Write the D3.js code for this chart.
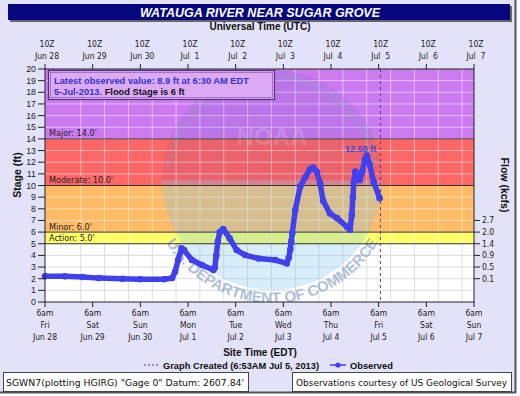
<!DOCTYPE html>
<html><head><meta charset="utf-8">
<script src="https://cdn.jsdelivr.net/npm/d3@7"></script>
<style>
html,body{margin:0;padding:0;background:#fff;}
svg{display:block;}
</style></head>
<body>
<svg id="chart" width="520" height="396"></svg>
<script>
// ---------- DATA ----------
const dayTicks = ["2013-06-28 06:00","2013-06-29 06:00","2013-06-30 06:00","2013-07-01 06:00","2013-07-02 06:00","2013-07-03 06:00","2013-07-04 06:00","2013-07-05 06:00","2013-07-06 06:00","2013-07-07 06:00"];
const utcLabels = ["Jun 28","Jun 29","Jun 30","Jul  1","Jul  2","Jul  3","Jul  4","Jul  5","Jul  6","Jul  7"];
const weekdayLabels = ["Fri","Sat","Sun","Mon","Tue","Wed","Thu","Fri","Sat","Sun"];
const dateLabels = ["Jun 28","Jun 29","Jun 30","Jul 1","Jul 2","Jul 3","Jul 4","Jul 5","Jul 6","Jul 7"];
const stageTicks = [0,1,2,3,4,5,6,7,8,9,10,11,12,13,14,15,16,17,18,19,20];
const flowStages = [7,6,5,4,3,2];
const flowLabels = ["2.7","2.0","1.4","0.9","0.5","0.1"];
const bandNames = ["Action: 5.0'","Minor: 6.0'","Moderate: 10.0'","Major: 14.0'"];
const bandLow = [5,6,10,14];
const bandHigh = [6,10,14,20];
const bandColors = ["#ffff66","#ffbb66","#ff6666","#cc7af0"];
const obsTimes = ["2013-06-28 06:00","2013-06-28 16:00","2013-06-29 01:00","2013-06-29 09:00","2013-06-29 21:00","2013-06-30 06:00","2013-06-30 18:00","2013-06-30 22:00","2013-06-30 23:30","2013-07-01 01:00","2013-07-01 02:45","2013-07-01 04:00","2013-07-01 08:00","2013-07-01 13:00","2013-07-01 18:45","2013-07-01 19:30","2013-07-01 20:15","2013-07-01 21:00","2013-07-01 22:00","2013-07-01 23:45","2013-07-02 03:00","2013-07-02 06:30","2013-07-02 10:45","2013-07-02 17:30","2013-07-03 02:00","2013-07-03 07:45","2013-07-03 08:45","2013-07-03 09:30","2013-07-03 10:00","2013-07-03 10:30","2013-07-03 12:00","2013-07-03 14:30","2013-07-03 17:00","2013-07-03 19:30","2013-07-03 21:00","2013-07-03 22:45","2013-07-04 00:30","2013-07-04 02:00","2013-07-04 05:30","2013-07-04 09:00","2013-07-04 14:00","2013-07-04 15:30","2013-07-04 16:30","2013-07-04 17:00","2013-07-04 17:30","2013-07-04 18:15","2013-07-04 19:15","2013-07-04 20:30","2013-07-04 21:45","2013-07-04 23:00","2013-07-05 00:00","2013-07-05 01:30","2013-07-05 03:30","2013-07-05 06:30"];
const obsStage = [2.2,2.2,2.15,2.05,2.0,1.95,1.95,2.05,2.6,3.6,4.6,4.45,3.6,3.17,2.74,2.95,4.0,5.2,6.0,6.26,5.46,4.46,4.03,3.74,3.6,3.31,3.8,4.5,5.2,5.9,7.9,9.9,10.7,11.4,11.55,11.2,10.2,8.7,7.6,7.2,6.45,6.2,7.5,9.0,10.3,11.2,10.9,10.45,11.2,12.2,12.58,11.8,10.3,8.9];
const createdTime = "2013-07-05 06:53";
const peakTime = "2013-07-05 00:00";
const peakLabel = "12.58 ft";

// ---------- SETUP ----------
const parse = d3.utcParse("%Y-%m-%d %H:%M");
const svg = d3.select("#chart");
const W = 520, H = 396;
const L = 45, R = 474, T = 69, B = 302;
const x = d3.scaleUtc().domain([parse(dayTicks[0]), parse(dayTicks[dayTicks.length-1])]).range([L, R]);
const y = d3.scaleLinear().domain([0, 20]).range([B, T]);
const sans = "'Liberation Sans', Arial, sans-serif";
const cond = "'DejaVu Sans Condensed','DejaVu Sans', sans-serif";

// page frame
svg.append("rect").attr("x",0).attr("y",0).attr("width",W).attr("height",H).attr("fill","#ffffff");
svg.append("rect").attr("x",0).attr("y",0).attr("width",515).attr("height",392).attr("fill","#e2e2f8");
svg.append("line").attr("x1",515.5).attr("x2",515.5).attr("y1",0).attr("y2",393).attr("stroke","#555").attr("stroke-width",2);
svg.append("line").attr("x1",0).attr("x2",516).attr("y1",392.5).attr("y2",392.5).attr("stroke","#555").attr("stroke-width",2);

// title bar
svg.append("rect").attr("x",10).attr("y",6).attr("width",502).attr("height",16).attr("fill","#666");
svg.append("rect").attr("x",8).attr("y",4).attr("width",502).attr("height",16).attr("fill","#06067e");
svg.append("text").attr("x",260).attr("y",17).attr("text-anchor","middle")
  .attr("font-family",sans).attr("font-weight","bold").attr("font-style","italic").attr("font-size",12.5)
  .attr("fill","#fff").text("WATAUGA RIVER NEAR SUGAR GROVE");
svg.append("text").attr("x",260).attr("y",30).attr("text-anchor","middle")
  .attr("font-family",sans).attr("font-weight","bold").attr("font-size",10).attr("fill","#111").text("Universal Time (UTC)");

// plot background
svg.append("rect").attr("x",L).attr("y",T).attr("width",R-L).attr("height",B-T).attr("fill","#fff");
const plot = svg.append("g");
bandLow.forEach((lo,i)=>{
  plot.append("rect").attr("x",L).attr("width",R-L).attr("y",y(bandHigh[i])).attr("height",y(lo)-y(bandHigh[i])).attr("fill",bandColors[i]);
});

// grid
const halfDays = d3.utcHour.every(12).range(x.domain()[0], x.domain()[1]).slice(1);
halfDays.forEach(t=>{
  plot.append("line").attr("x1",x(t)).attr("x2",x(t)).attr("y1",y(5)).attr("y2",B).attr("stroke","#dcdcdc").attr("stroke-width",1);
  plot.append("line").attr("x1",x(t)).attr("x2",x(t)).attr("y1",T).attr("y2",y(5)).attr("stroke","#fff").attr("stroke-opacity",0.5).attr("stroke-width",1);
});
stageTicks.slice(1,-1).forEach(s=>{
  plot.append("line").attr("x1",L).attr("x2",R).attr("y1",y(s)).attr("y2",y(s))
    .attr("stroke", s<5 ? "#dcdcdc" : "#fff").attr("stroke-opacity", s<5?1:0.5).attr("stroke-width",1);
});

// NOAA-like watermark (faint)
const defs = svg.append("defs");
defs.append("clipPath").attr("id","pclip").append("rect").attr("x",L).attr("y",T).attr("width",R-L).attr("height",B-T);
const wm = svg.append("g").attr("clip-path","url(#pclip)");
const cx = 272, cy = 180, r0 = 110;
wm.append("path").attr("d", d3.arc()({innerRadius:0, outerRadius:r0, startAngle:-Math.PI/2, endAngle:Math.PI/2})).attr("transform",`translate(${cx},${cy})`).attr("fill","#1f3f99").attr("opacity",0.09);
wm.append("path").attr("d", d3.arc()({innerRadius:0, outerRadius:r0, startAngle:Math.PI/2, endAngle:3*Math.PI/2})).attr("transform",`translate(${cx},${cy})`).attr("fill","#7cc6ef").attr("opacity",0.3);
defs.append("path").attr("id","arcTop").attr("d",`M ${cx-100} ${cy} A 100 100 0 0 1 ${cx+100} ${cy}`);
defs.append("path").attr("id","arcBot").attr("d",`M ${cx-123} ${cy} A 123 123 0 0 0 ${cx+123} ${cy}`);
wm.append("text").attr("font-family",sans).attr("font-weight","bold").attr("font-size",10).attr("fill","#8fa6c6").attr("opacity",0.35)
  .append("textPath").attr("href","#arcTop").attr("startOffset","50%").attr("text-anchor","middle").text("NATIONAL OCEANIC AND ATMOSPHERIC ADMINISTRATION");
wm.append("text").attr("font-family",sans).attr("font-weight","bold").attr("font-size",15).attr("fill","#8fa6c6").attr("opacity",0.7)
  .append("textPath").attr("href","#arcBot").attr("startOffset","50%").attr("text-anchor","middle").text("U.S. DEPARTMENT OF COMMERCE");
wm.append("text").attr("x",cx).attr("y",cy-35).attr("text-anchor","middle").attr("font-family",sans).attr("font-weight","bold")
  .attr("font-size",24).attr("fill","#fff").attr("opacity",0.15).text("NOAA");

// band lines
bandLow.forEach(lo=>{
  svg.append("line").attr("x1",L).attr("x2",R).attr("y1",y(lo)).attr("y2",y(lo)).attr("stroke","#333").attr("stroke-width",1);
});
bandNames.forEach((nm,i)=>{
  svg.append("text").attr("x",L+4).attr("y",y(bandLow[i])-2.5).attr("font-family",cond).attr("font-size",9).attr("fill","#222").text(nm);
});

// info box
svg.append("rect").attr("x",48.5).attr("y",70.5).attr("width",226).attr("height",29).attr("fill","#dcaaf4").attr("stroke","#553377").attr("stroke-width",1.2);
svg.append("rect").attr("x",50.5).attr("y",72.5).attr("width",222).attr("height",25).attr("fill","none").attr("stroke","#9966bb").attr("stroke-width",0.8);
svg.append("text").attr("x",54).attr("y",84).attr("font-family",sans).attr("font-weight","bold").attr("font-size",9.3).attr("fill","#3333cc")
  .text("Latest observed value: 8.9 ft at 6:30 AM EDT");
const t2 = svg.append("text").attr("x",54).attr("y",95).attr("font-family",sans).attr("font-weight","bold").attr("font-size",9.3);
t2.append("tspan").attr("fill","#3333cc").text("5-Jul-2013.  ");
t2.append("tspan").attr("fill","#111").text("Flood Stage is 6 ft");

// created dashed line
svg.append("line").attr("x1",x(parse(createdTime))).attr("x2",x(parse(createdTime))).attr("y1",T).attr("y2",B)
  .attr("stroke","#5a3a9a").attr("stroke-width",1).attr("stroke-dasharray","3,3");

// observed series
const obs = obsTimes.map((t,i)=>({t:parse(t), v:obsStage[i]}));
const line = d3.line().x(d=>x(d.t)).y(d=>y(d.v));
svg.append("path").datum(obs).attr("d",line).attr("fill","none").attr("stroke","#4040ee").attr("stroke-width",5.5).attr("stroke-linejoin","round").attr("stroke-linecap","round");
svg.selectAll("circle.obs").data(obs).enter().append("circle").attr("class","obs")
  .attr("cx",d=>x(d.t)).attr("cy",d=>y(d.v)).attr("r",3.3).attr("fill","#4040ee");
svg.append("text").attr("x",x(parse(peakTime))-6).attr("y",y(12.58)-3).attr("text-anchor","middle")
  .attr("font-family",sans).attr("font-weight","bold").attr("font-size",9).attr("fill","#4444dd").text(peakLabel);

// plot border
svg.append("rect").attr("x",L).attr("y",T).attr("width",R-L).attr("height",B-T).attr("fill","none").attr("stroke","#222").attr("stroke-width",1);

// axes
const dayDates = dayTicks.map(parse);
const tickG = svg.append("g").attr("stroke","#222").attr("stroke-width",1);
dayDates.forEach(d=>{
  tickG.append("line").attr("x1",x(d)).attr("x2",x(d)).attr("y1",T).attr("y2",T-5);
  tickG.append("line").attr("x1",x(d)).attr("x2",x(d)).attr("y1",B).attr("y2",B+5);
});
halfDays.filter(t=>t.getUTCHours()===18).forEach(d=>{
  tickG.append("line").attr("x1",x(d)).attr("x2",x(d)).attr("y1",T).attr("y2",T-3);
  tickG.append("line").attr("x1",x(d)).attr("x2",x(d)).attr("y1",B).attr("y2",B+3);
});
stageTicks.forEach(s=>{
  tickG.append("line").attr("x1",L-7).attr("x2",L).attr("y1",y(s)).attr("y2",y(s));
  svg.append("text").attr("x",L-9).attr("y",y(s)+3).attr("text-anchor","end").attr("font-family",sans).attr("font-size",8.8).attr("fill","#222").text(s);
});
flowStages.forEach((s,i)=>{
  tickG.append("line").attr("x1",R).attr("x2",R+6).attr("y1",y(s)).attr("y2",y(s));
  svg.append("text").attr("x",R+8).attr("y",y(s)+3).attr("font-family",cond).attr("font-size",8.5).attr("fill","#222").text(flowLabels[i]);
});
dayDates.forEach((d,i)=>{
  const g = svg.append("g").attr("font-family",cond).attr("font-size",8.5).attr("fill","#222").attr("text-anchor","middle");
  g.append("text").attr("x",x(d)+2).attr("y",47).text("10Z");
  g.append("text").attr("x",x(d)+2).attr("y",59).attr("xml:space","preserve").text(utcLabels[i]);
  g.append("text").attr("x",x(d)).attr("y",316).text("6am");
  g.append("text").attr("x",x(d)).attr("y",328).text(weekdayLabels[i]);
  g.append("text").attr("x",x(d)).attr("y",340).text(dateLabels[i]);
});
svg.append("text").attr("transform","translate(21,175) rotate(-90)").attr("text-anchor","middle")
  .attr("font-family",sans).attr("font-weight","bold").attr("font-size",10.5).attr("fill","#111").text("Stage (ft)");
svg.append("text").attr("transform","translate(501,185) rotate(90)").attr("text-anchor","middle")
  .attr("font-family",sans).attr("font-weight","bold").attr("font-size",10.5).attr("fill","#111").text("Flow (kcfs)");
svg.append("text").attr("x",260).attr("y",356).attr("text-anchor","middle")
  .attr("font-family",sans).attr("font-weight","bold").attr("font-size",10).attr("fill","#111").text("Site Time (EDT)");

// legend
svg.append("line").attr("x1",144).attr("x2",159).attr("y1",365).attr("y2",365).attr("stroke","#5a3a9a").attr("stroke-dasharray","2,2");
svg.append("text").attr("x",163).attr("y",368.5).attr("font-family",sans).attr("font-weight","bold").attr("font-size",9.3).attr("fill","#111").text("Graph Created (6:53AM Jul 5, 2013)");
svg.append("line").attr("x1",330).attr("x2",346).attr("y1",365).attr("y2",365).attr("stroke","#4040ee").attr("stroke-width",1.5);
svg.append("circle").attr("cx",338).attr("cy",365).attr("r",2.6).attr("fill","#4040ee");
svg.append("text").attr("x",350).attr("y",368.5).attr("font-family",sans).attr("font-weight","bold").attr("font-size",9.3).attr("fill","#111").text("Observed");

// footer boxes
svg.append("rect").attr("x",3.5).attr("y",372.5).attr("width",245).attr("height",19).attr("fill","#fff").attr("stroke","#444");
svg.append("text").attr("x",6).attr("y",386).attr("font-family",cond).attr("font-size",9.5)
  .attr("textLength",238).attr("lengthAdjust","spacingAndGlyphs").attr("fill","#111").text("SGWN7(plotting HGIRG) \"Gage 0\" Datum: 2607.84'");
svg.append("rect").attr("x",292.5).attr("y",372.5).attr("width",219).attr("height",19).attr("fill","#fff").attr("stroke","#444");
svg.append("text").attr("x",296).attr("y",386).attr("font-family",cond).attr("font-size",9.5)
  .attr("textLength",211).attr("lengthAdjust","spacingAndGlyphs").attr("fill","#111").text("Observations courtesy of US Geological Survey");
</script>
</body></html>
